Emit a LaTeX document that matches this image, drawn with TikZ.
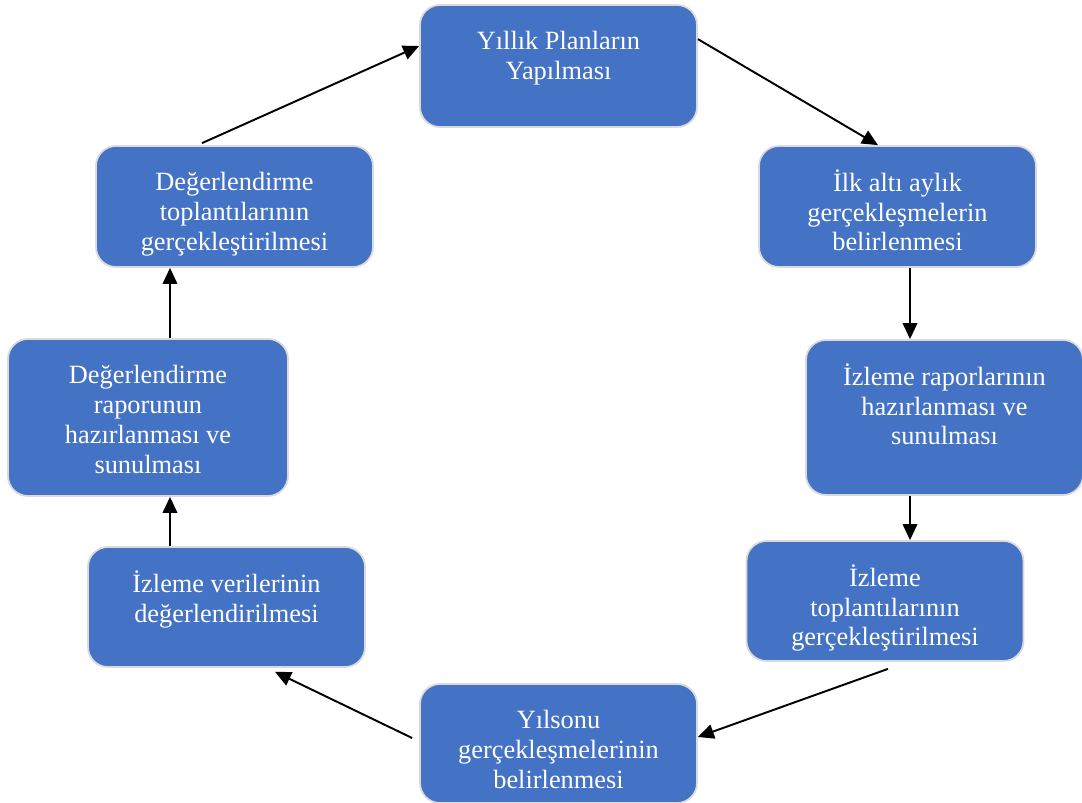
\documentclass[tikz,border=0pt]{standalone}
\usepackage{fontspec}
\setmainfont{Liberation Serif}
\usetikzlibrary{arrows.meta}
\definecolor{kutumavi}{HTML}{4472C4}
\definecolor{kenar}{HTML}{DADADA}
\newcommand{\kutuyazi}[2]{\parbox[c][#1][t]{5.4cm}{\centering\vspace*{0.47cm}\strut #2}}
\begin{document}
\begin{tikzpicture}[
        kutu/.style={draw=kenar, line width=1pt, fill=kutumavi, rounded corners=0.4cm,
                     text=white, font=\fontsize{15}{17}\selectfont,
                     inner sep=0pt, minimum width=5.54cm},
        ok/.style={line width=1.1pt, -{Triangle[length=0.32cm,width=0.29cm]}},
    ]
        \useasboundingbox (0,0) rectangle (21.64,-16.06);
        % kutular
        \node[kutu] (plan)      at (11.17,-1.32)  {\kutuyazi{2.44cm}{Yıllık Planların\\ Yapılması}};
        \node[kutu] (ilk)       at (17.95,-4.13)  {\kutuyazi{2.42cm}{İlk altı aylık\\ gerçekleşmelerin\\ belirlenmesi}};
        \node[kutu] (rapor)     at (18.89,-8.35)  {\kutuyazi{3.10cm}{İzleme raporlarının\\ hazırlanması ve\\ sunulması}};
        \node[kutu] (toplanti)  at (17.70,-12.02) {\kutuyazi{2.40cm}{İzleme\\ toplantılarının\\ gerçekleştirilmesi}};
        \node[kutu] (yilsonu)   at (11.17,-14.87) {\kutuyazi{2.38cm}{Yılsonu\\ gerçekleşmelerinin\\ belirlenmesi}};
        \node[kutu] (veri)      at (4.53,-12.14)  {\kutuyazi{2.40cm}{İzleme verilerinin\\ değerlendirilmesi}};
        \node[kutu, minimum width=5.6cm] (drapor) at (2.96,-8.35) {\kutuyazi{3.14cm}{Değerlendirme\\ raporunun\\ hazırlanması ve\\ sunulması}};
        \node[kutu] (dtoplanti) at (4.69,-4.13)   {\kutuyazi{2.42cm}{Değerlendirme\\ toplantılarının\\ gerçekleştirilmesi}};
        % oklar
        \draw[ok] ([yshift=-0.7cm]plan.north east) -- ([xshift=-0.39cm]ilk.north);
        \draw[ok] ([xshift=0.25cm]ilk.south) -- ([xshift=0.25cm]ilk.south |- rapor.north);
        \draw[ok] ([xshift=-0.69cm]rapor.south) -- ([xshift=-0.69cm]rapor.south |- toplanti.north);
        \draw[ok] ([shift={(0.06cm,-0.14cm)}]toplanti.south) -- ([yshift=0.13cm]yilsonu.east);
        \draw[ok] ([shift={(-0.14cm,0.11cm)}]yilsonu.west) -- ([shift={(0.97cm,-0.08cm)}]veri.south);
        \draw[ok] ([xshift=-1.13cm]veri.north) -- ([xshift=-1.13cm]veri.north |- drapor.south);
        \draw[ok] ([xshift=0.44cm]drapor.north) -- ([xshift=0.44cm]drapor.north |- dtoplanti.south);
        \draw[ok] ([shift={(-0.65cm,0.04cm)}]dtoplanti.north) -- ([yshift=0.4cm]plan.west);
    \end{tikzpicture}
\end{document}
